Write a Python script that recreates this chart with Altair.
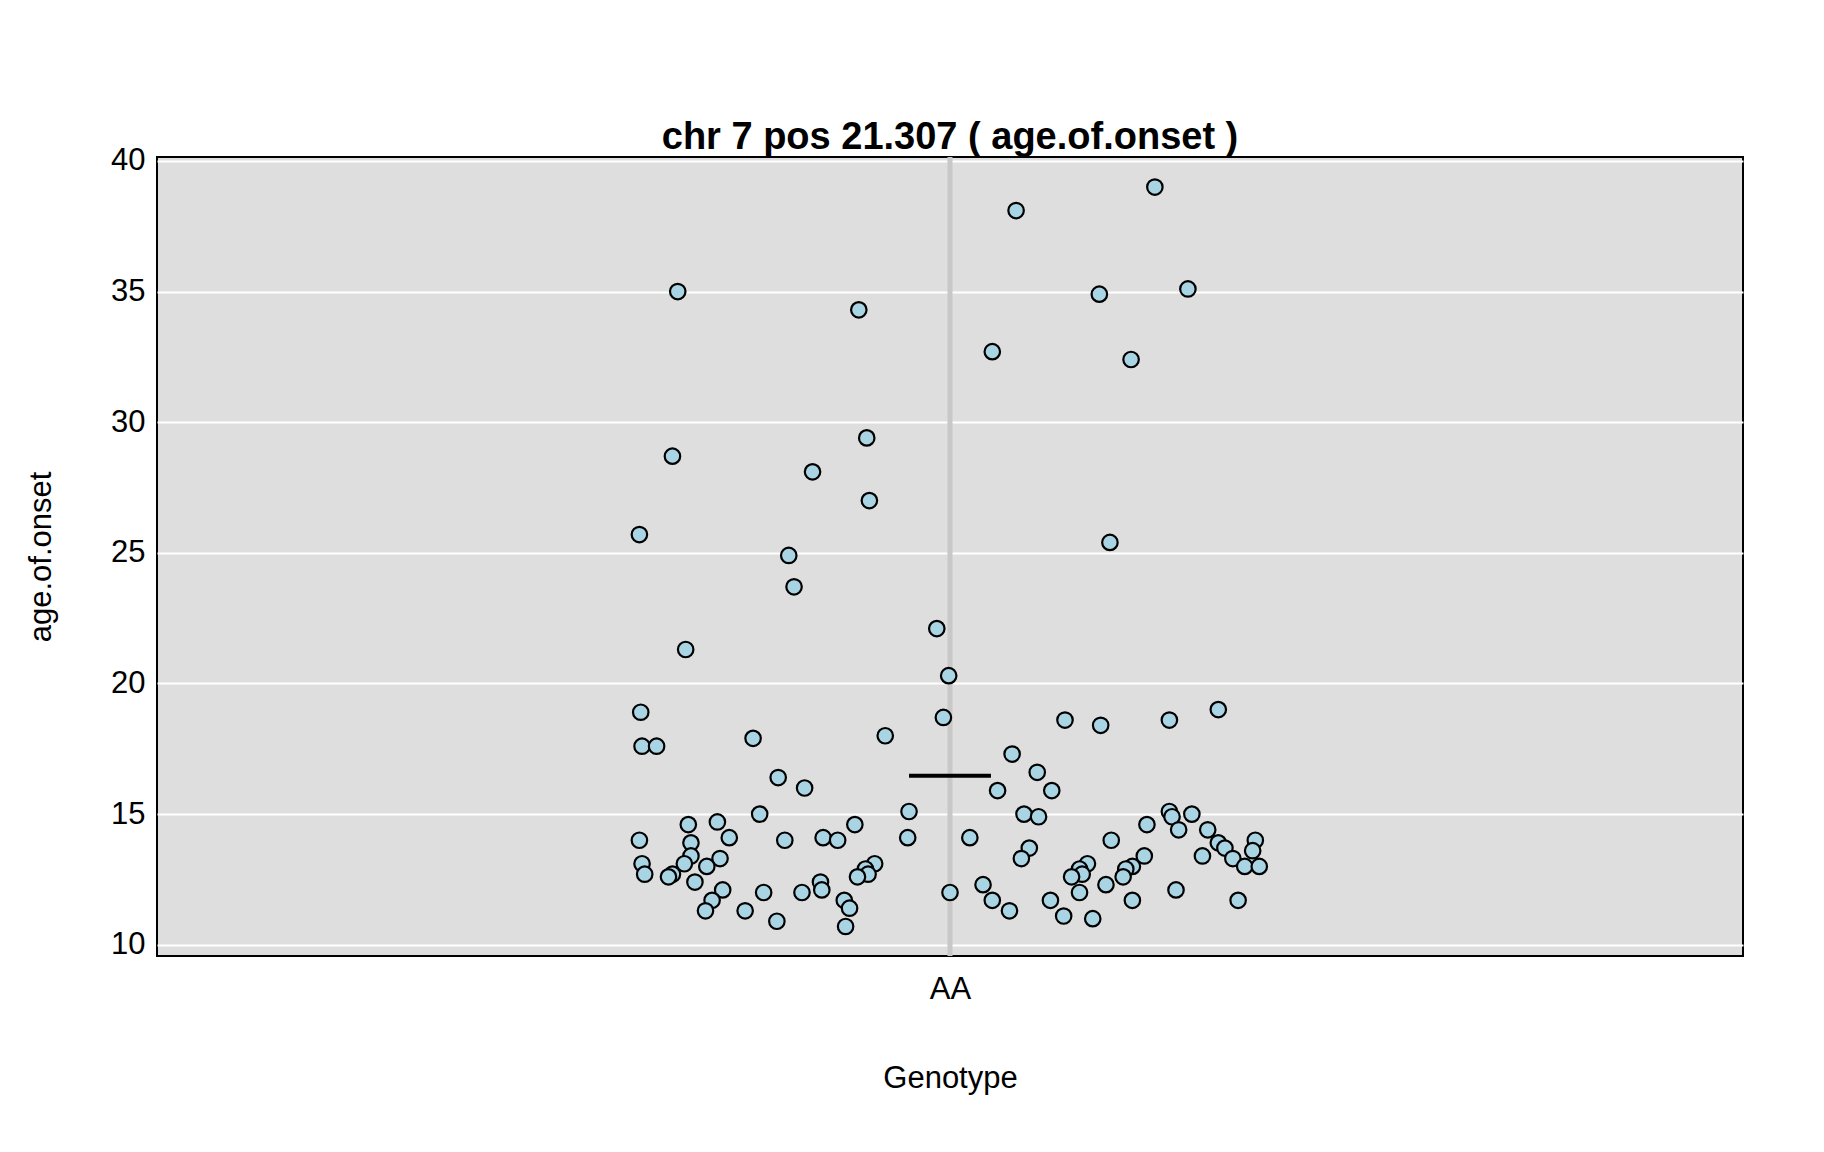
import altair as alt
import pandas as pd

# ---- data ----
genotype_labels = ["AA"]
genotype_centers = [1.0]

jitter_x = [
    0.794, 0.790, 0.765, 1.155, 1.050, 0.931, 1.113, 1.180, 1.032, 1.137,
    0.937, 0.896, 0.939, 1.121,
    0.878, 0.882, 0.990, 0.800, 0.999, 0.766, 0.767, 0.778, 0.851, 0.951,
    0.995, 1.087, 1.114, 1.166, 1.203, 1.047, 1.066, 1.077, 1.036, 0.870,
    0.890, 0.856, 0.969, 1.056, 1.067, 1.166, 1.168, 1.183, 1.149, 1.173,
    1.195, 0.802, 0.824, 0.928, 0.765, 0.804, 0.833, 0.875, 0.904, 0.915,
    0.968, 1.015, 1.122, 1.203, 1.231, 1.229, 1.208, 1.214, 1.191, 1.147,
    1.060, 1.054, 0.804, 0.826, 0.767, 0.799, 0.816, 0.769, 0.790, 0.787,
    0.943, 0.936, 0.938, 0.930, 1.104, 1.098, 1.100, 1.092, 1.138, 1.133,
    1.131, 1.223, 1.234, 0.807, 0.902, 0.903, 0.828, 0.859, 0.888, 0.920,
    0.924, 0.820, 0.815, 0.845, 0.869, 0.921, 1.000, 1.025, 1.032, 1.045,
    1.076, 1.086, 1.098, 1.108, 1.118, 1.138, 1.171, 1.218,
]
age_of_onset = [
    35.0, 28.7, 25.7, 39.0, 38.1, 34.3, 34.9, 35.1, 32.7, 32.4,
    29.4, 28.1, 27.0, 25.4,
    24.9, 23.7, 22.1, 21.3, 20.3, 18.9, 17.6, 17.6, 17.9, 18.0,
    18.7, 18.6, 18.4, 18.6, 19.0, 17.3, 16.6, 15.9, 15.9, 16.4,
    16.0, 15.0, 15.1, 15.0, 14.9, 15.1, 14.9, 15.0, 14.6, 14.4,
    14.4, 14.6, 14.7, 14.6, 14.0, 13.9, 14.1, 14.0, 14.1, 14.0,
    14.1, 14.1, 14.0, 13.9, 14.0, 13.6, 13.7, 13.3, 13.4, 13.4,
    13.7, 13.3, 13.4, 13.3, 13.1, 13.1, 13.0, 12.7, 12.7, 12.6,
    13.1, 12.9, 12.7, 12.6, 13.1, 12.9, 12.7, 12.6, 13.0, 12.9,
    12.6, 13.0, 13.0, 12.4, 12.4, 12.1, 12.1, 12.0, 12.0, 11.7,
    11.4, 11.7, 11.3, 11.3, 10.9, 10.7, 12.0, 12.3, 11.7, 11.3,
    11.7, 11.1, 12.0, 11.0, 12.3, 11.7, 12.1, 11.7,
]
mean_age = 16.47
y_ticks = [10, 15, 20, 25, 30, 35, 40]

# ---- styling ----
FONT = "Liberation Sans"
W, H = 1586, 799
MEAN_HALF = 0.031

df_pts = pd.DataFrame({"x": jitter_x, "age": age_of_onset})
df_center = pd.DataFrame({"x": genotype_centers})
df_mean = pd.DataFrame({
    "x": [c - MEAN_HALF for c in genotype_centers],
    "x2": [c + MEAN_HALF for c in genotype_centers],
    "age": [mean_age],
})

xscale = alt.Scale(domain=[0.4, 1.6], nice=False, zero=False)
yscale = alt.Scale(domain=[9.57, 40.15], nice=False, zero=False)

x_axis = alt.Axis(
    values=genotype_centers,
    labelExpr="'" + genotype_labels[0] + "'",
    title="Genotype",
    grid=False, ticks=False, tickSize=0, domain=False,
    labelFont=FONT, labelFontSize=31, labelColor="black",
    labelPadding=42, labelBaseline="alphabetic",
    titleFont=FONT, titleFontSize=31, titleFontWeight="normal", titleColor="black",
    titleX=W / 2, titleY=131, titleBaseline="alphabetic", titleAlign="center",
)
y_axis = alt.Axis(
    values=y_ticks,
    title="age.of.onset",
    grid=True, gridColor="white", gridWidth=2, gridOpacity=1,
    ticks=False, tickSize=0, domain=False,
    labelFont=FONT, labelFontSize=31, labelColor="black",
    labelPadding=12, labelBaseline="middle",
    titleFont=FONT, titleFontSize=31, titleFontWeight="normal", titleColor="black",
    titleX=-107, titleY=H / 2, titleBaseline="alphabetic", titleAlign="center",
)

vline = alt.Chart(df_center).mark_rule(color="#c8c8c8", strokeWidth=5).encode(
    x=alt.X("x:Q", scale=xscale, axis=x_axis)
)

mean_line = alt.Chart(df_mean).mark_rule(color="black", strokeWidth=4).encode(
    x=alt.X("x:Q", scale=xscale, axis=x_axis),
    x2="x2:Q",
    y=alt.Y("age:Q", scale=yscale, axis=y_axis),
)

points = alt.Chart(df_pts).mark_circle(
    color="#A8D4E4", stroke="black", strokeWidth=2.2, size=240, opacity=1
).encode(
    x=alt.X("x:Q", scale=xscale, axis=x_axis),
    y=alt.Y("age:Q", scale=yscale, axis=y_axis),
)

chart = alt.layer(vline, mean_line, points).properties(
    width=W,
    height=H,
    title=alt.TitleParams(
        "chr 7 pos 21.307 ( age.of.onset )",
        font=FONT, fontSize=38, fontWeight="bold", color="black",
        anchor="middle", baseline="alphabetic", offset=7, dy=49,
    ),
    autosize=alt.AutoSizeParams(type="none"),
    padding={"left": 149, "top": 149, "right": 73, "bottom": 196},
    background="white",
).configure_view(
    fill="#DEDEDE", stroke="black", strokeWidth=2
)

chart.save("out.html", embed_options={"renderer": "svg", "actions": False})
